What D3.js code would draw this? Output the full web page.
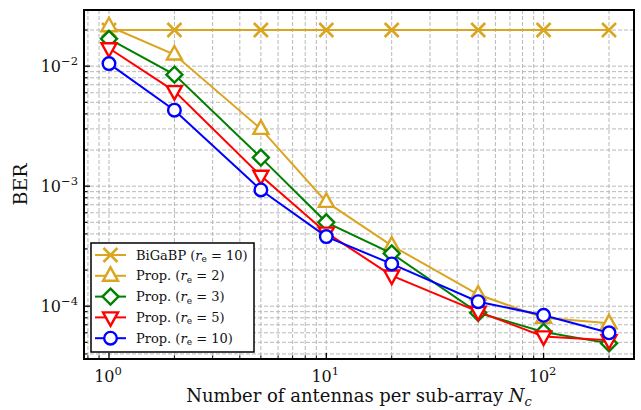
<!DOCTYPE html>
<html>
<head>
<meta charset="utf-8">
<script src="https://cdn.jsdelivr.net/npm/d3@7"></script>
<style>
  body { margin: 0; background: #fff; }
  svg { display: block; font-family: "DejaVu Serif", serif; }
</style>
</head>
<body>
<svg width="641" height="410"></svg>
<script>
// data
const antennas = [1, 2, 5, 10, 20, 50, 100, 200];
const berBigabp = [0.020, 0.020, 0.020, 0.020, 0.020, 0.020, 0.020, 0.020];
const berRe2  = [0.0215, 0.0125, 0.0030, 7.4e-4, 3.2e-4, 1.25e-4, 8.0e-5, 7.2e-5];
const berRe3  = [0.0169, 0.0085, 1.73e-3, 5.0e-4, 2.75e-4, 8.8e-5, 6.1e-5, 4.9e-5];
const berRe5  = [0.0141, 0.0062, 1.22e-3, 4.1e-4, 1.8e-4, 9.0e-5, 5.6e-5, 5.2e-5];
const berRe10 = [0.0105, 0.0043, 9.3e-4, 3.8e-4, 2.25e-4, 1.09e-4, 8.4e-5, 6.0e-5];
const xTicks = [1, 10, 100];
const yTicks = [1e-4, 1e-3, 1e-2];

const w = 641, h = 410;
const pLeft = 84, pRight = 634, pTop = 10, pBottom = 359;

const svg = d3.select('svg');

const xScale = d3.scaleLog()
  .domain([Math.pow(10, -0.115), Math.pow(10, 2.416)])
  .range([pLeft, pRight]);

const yScale = d3.scaleLog()
  .domain([Math.pow(10, -4.44), Math.pow(10, -1.532)])
  .range([pBottom, pTop]);

// minor values inside the domain
const minorVals = (scale) => {
  const [a, b] = scale.domain();
  const out = [];
  for (let e = Math.floor(Math.log10(a)); e <= Math.ceil(Math.log10(b)); e++) {
    for (let m = 1; m < 10; m++) {
      const v = m * Math.pow(10, e);
      if (v >= a && v <= b) out.push({v: v, major: m === 1});
    }
  }
  return out;
};
const xMinor = minorVals(xScale);
const yMinor = minorVals(yScale);

// grid
const grid = svg.append('g')
  .attr('stroke', '#b8b8b8')
  .attr('stroke-width', 1)
  .attr('stroke-dasharray', '4,2');

grid.selectAll('.gx')
  .data(xMinor)
  .enter()
  .append('line')
  .attr('x1', d => xScale(d.v))
  .attr('x2', d => xScale(d.v))
  .attr('y1', pTop)
  .attr('y2', pBottom);

grid.selectAll('.gy')
  .data(yMinor)
  .enter()
  .append('line')
  .attr('x1', pLeft)
  .attr('x2', pRight)
  .attr('y1', d => yScale(d.v))
  .attr('y2', d => yScale(d.v));

// series
const series = [
  {name: 'BiGaBP', re: '10', vals: berBigabp, color: '#DAA520', marker: 'x'},
  {name: 'Prop.', re: '2', vals: berRe2, color: '#DAA520', marker: 'tri-up'},
  {name: 'Prop.', re: '3', vals: berRe3, color: '#008000', marker: 'diamond'},
  {name: 'Prop.', re: '5', vals: berRe5, color: '#FF0000', marker: 'tri-down'},
  {name: 'Prop.', re: '10', vals: berRe10, color: '#0000FF', marker: 'circle'}
];

const markerPath = (type) => {
  switch (type) {
    case 'x': return 'M-7,-7L7,7M-7,7L7,-7';
    case 'tri-up': return 'M0,-8.5L7.5,5L-7.5,5Z';
    case 'tri-down': return 'M0,8.5L7.5,-5L-7.5,-5Z';
    case 'diamond': return 'M0,-8L8,0L0,8L-8,0Z';
    case 'circle': return 'M6.3,0A6.3,6.3 0 1,1 -6.3,0A6.3,6.3 0 1,1 6.3,0Z';
  }
};

const line = d3.line()
  .x((d, i) => xScale(antennas[i]))
  .y(d => yScale(d));

const plot = svg.append('g');

series.forEach(s => {
  const g = plot.append('g');
  g.append('path')
    .attr('d', line(s.vals))
    .attr('fill', 'none')
    .attr('stroke', s.color)
    .attr('stroke-width', 2);
  g.selectAll('path.m')
    .data(s.vals)
    .enter()
    .append('path')
    .attr('class', 'm')
    .attr('transform', (d, i) => 'translate(' + xScale(antennas[i]) + ',' + yScale(d) + ')')
    .attr('d', markerPath(s.marker))
    .attr('fill', s.marker === 'x' ? 'none' : '#fff')
    .attr('stroke', s.color)
    .attr('stroke-width', s.marker === 'x' ? 2.6 : 2.4);
});

// ticks (inward, left and bottom)
const ticks = svg.append('g').attr('stroke', '#000');
ticks.selectAll('.tx')
  .data(xMinor)
  .enter()
  .append('line')
  .attr('x1', d => xScale(d.v))
  .attr('x2', d => xScale(d.v))
  .attr('y1', pBottom)
  .attr('y2', d => pBottom - (d.major ? 6 : 3.5))
  .attr('stroke-width', d => d.major ? 1.3 : 1);
ticks.selectAll('.ty')
  .data(yMinor)
  .enter()
  .append('line')
  .attr('x1', pLeft)
  .attr('x2', d => pLeft + (d.major ? 6 : 3.5))
  .attr('y1', d => yScale(d.v))
  .attr('y2', d => yScale(d.v))
  .attr('stroke-width', d => d.major ? 1.3 : 1);

// frame
svg.append('rect')
  .attr('x', pLeft)
  .attr('y', pTop)
  .attr('width', pRight - pLeft)
  .attr('height', pBottom - pTop)
  .attr('fill', 'none')
  .attr('stroke', '#000')
  .attr('stroke-width', 2);

// tick labels
const powLabel = (sel, exp) => {
  sel.append('tspan').text('10');
  sel.append('tspan')
    .attr('dy', -7)
    .attr('font-size', 11.5)
    .text(exp < 0 ? '\u2212' + (-exp) : String(exp));
};

xTicks.forEach(t => {
  const txt = svg.append('text')
    .attr('x', xScale(t) - 1)
    .attr('y', 382)
    .attr('font-size', 16)
    .attr('text-anchor', 'middle')
    .attr('fill', '#111');
  powLabel(txt, Math.round(Math.log10(t)));
});

yTicks.forEach(t => {
  const txt = svg.append('text')
    .attr('x', 78)
    .attr('y', yScale(t) + 6)
    .attr('font-size', 16)
    .attr('text-anchor', 'end')
    .attr('fill', '#111');
  powLabel(txt, Math.round(Math.log10(t)));
});

// axis titles
const xt = svg.append('text')
  .attr('x', (pLeft + pRight) / 2)
  .attr('y', 402)
  .attr('font-size', 18)
  .attr('text-anchor', 'middle')
  .attr('fill', '#111');
xt.append('tspan').text('Number of antennas per sub-array ');
xt.append('tspan').attr('font-style', 'italic').text('N');
xt.append('tspan').attr('font-style', 'italic').attr('font-size', 13).attr('dy', 3.5).text('c');

svg.append('text')
  .attr('transform', 'translate(27,' + ((pTop + pBottom) / 2) + ') rotate(-90)')
  .attr('font-size', 19)
  .attr('text-anchor', 'middle')
  .attr('fill', '#111')
  .text('BER');

// legend
const lg = svg.append('g');
lg.append('rect')
  .attr('x', 91)
  .attr('y', 243)
  .attr('width', 163)
  .attr('height', 109)
  .attr('fill', '#fff')
  .attr('stroke', '#000')
  .attr('stroke-width', 1.5);

series.forEach((s, i) => {
  const y = 255 + i * 20.8;
  lg.append('line')
    .attr('x1', 95).attr('x2', 126)
    .attr('y1', y).attr('y2', y)
    .attr('stroke', s.color)
    .attr('stroke-width', 2);
  lg.append('path')
    .attr('transform', 'translate(110.5,' + y + ')')
    .attr('d', markerPath(s.marker))
    .attr('fill', s.marker === 'x' ? 'none' : '#fff')
    .attr('stroke', s.color)
    .attr('stroke-width', s.marker === 'x' ? 2.6 : 2.4);
  const t = lg.append('text')
    .attr('x', 136)
    .attr('y', y + 4.5)
    .attr('font-size', 13)
    .attr('fill', '#111');
  t.append('tspan').text(s.name + ' (');
  t.append('tspan').attr('font-style', 'italic').text('r');
  t.append('tspan').attr('font-size', 9).attr('dy', 2.5).text('e');
  t.append('tspan').attr('dy', -2.5).text(' = ' + s.re + ')');
});
</script>
</body>
</html>
